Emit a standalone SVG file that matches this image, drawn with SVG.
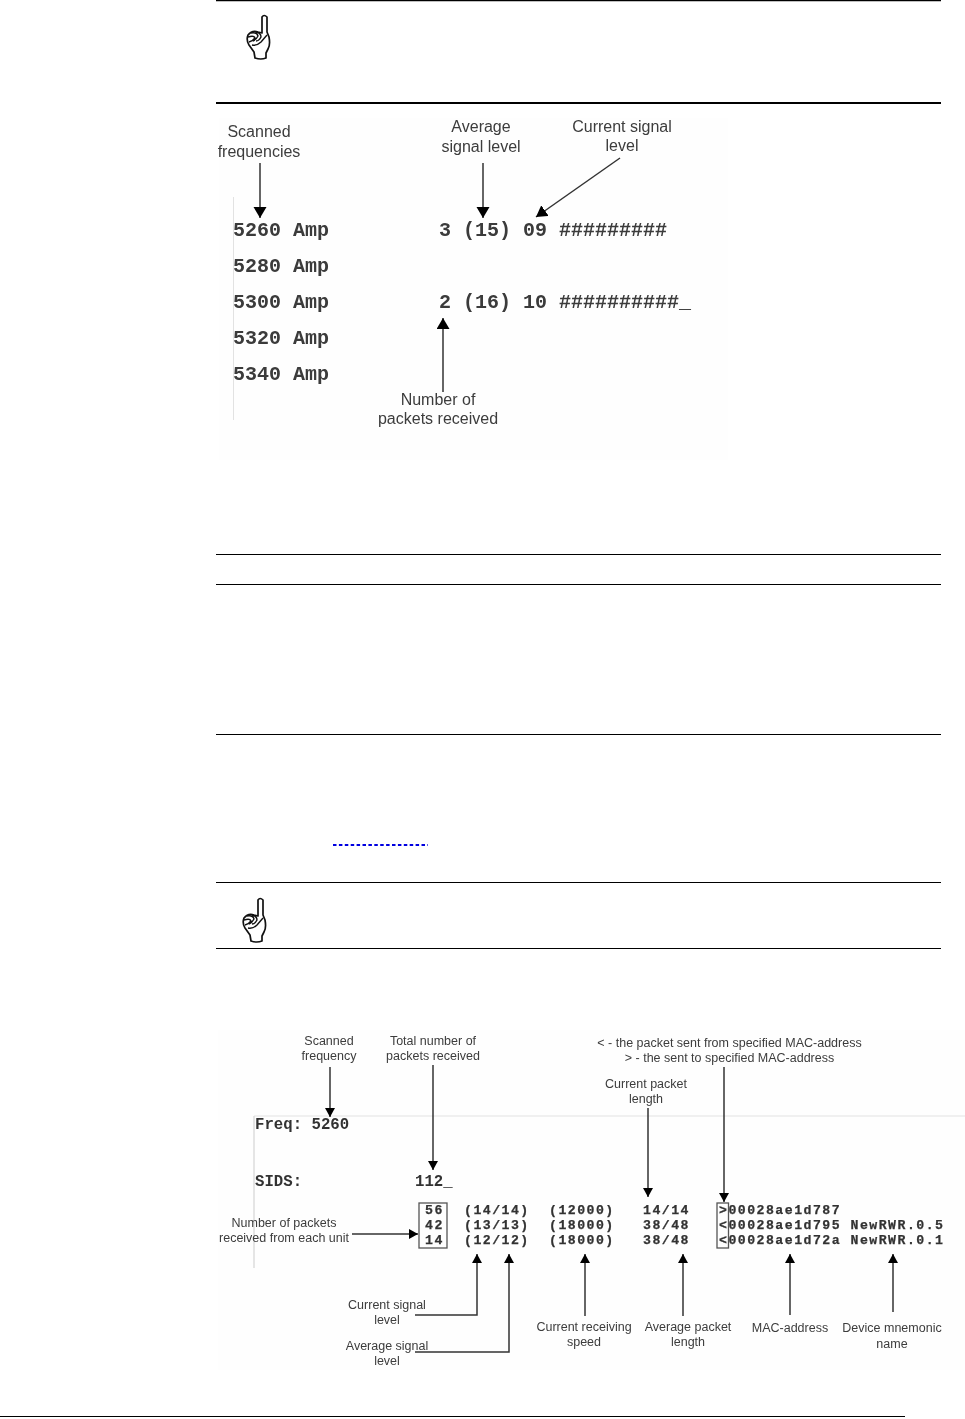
<svg xmlns="http://www.w3.org/2000/svg" width="965" height="1419" viewBox="0 0 965 1419">
<style>
.rule{stroke:#000;fill:none}
.lab1{font:16px "Liberation Sans",Arial,sans-serif;fill:#3c3c3c;text-anchor:middle}
.lab2{font:12.5px "Liberation Sans",Arial,sans-serif;fill:#3c3c3c;text-anchor:middle}
.m1{font:bold 20px "Liberation Mono","Courier New",monospace;fill:#3a3a3a;white-space:pre}
.m2{font:bold 15.7px "Liberation Mono","Courier New",monospace;fill:#333;white-space:pre}
.m3{font:bold 13.2px "Liberation Mono","Courier New",monospace;letter-spacing:1.48px;fill:#333;stroke:#333;stroke-width:.25;white-space:pre}
.conn{stroke:#333;stroke-width:1.5;fill:none}
.box{stroke:#555;stroke-width:1.3;fill:none}
.bg{fill:#fefefe}
.edge{stroke:#e2e2e2;stroke-width:1;fill:none}
</style>
<defs>
<filter id="soft" x="-5%" y="-5%" width="110%" height="110%"><feGaussianBlur stdDeviation="0.35"/></filter>
<marker id="ah" markerWidth="12" markerHeight="14" refX="11" refY="6.500" orient="auto" markerUnits="userSpaceOnUse"><path d="M0,0L11,6.500L0,13z" fill="#000"/></marker>
<marker id="as" markerWidth="10" markerHeight="11" refX="9" refY="5" orient="auto" markerUnits="userSpaceOnUse"><path d="M0,0L9,5L0,10z" fill="#000"/></marker>
<g id="hand" fill="#fff" stroke="#111" stroke-width="1.700" stroke-linejoin="round">
<path d="M15,18V2Q17,-1 20,2V17L22,22Q23.500,30 21,34L19,38V43Q14,45 8,43L7,37L2,30Q-1,25 1,20Q5,15 11,17Z"/>
<path d="M1,22Q7,20 8,23Q6,26 2,27M4,18Q10,17 11,21Q9,25 6,26M9,17Q14,18 14,22Q12,26 9,26M5,30Q10,31 14,27L20,20" fill="none" stroke-width="1.400"/>
</g>
</defs>
<rect width="965" height="1419" fill="#fff"/>

<g id="page-rules">
<path class="rule" stroke-width="1.500" d="M216,0.500H941"/>
<path class="rule" stroke-width="2" d="M216,103H941"/>
<path class="rule" stroke-width="1" d="M216,554.500H941M216,584.500H941M216,734.500H941M216,882.500H941M216,948.500H941"/>
<path class="rule" stroke-width="1" d="M0,1416.500H905"/>
<path id="link-underline" d="M333,845H428" stroke="#0000e0" stroke-width="2" stroke-dasharray="3.500 2.400" fill="none"/>
</g>

<g id="hand-1"><use href="#hand" x="247" y="15"/></g>
<g id="hand-2"><use href="#hand" x="243" y="898"/></g>

<g id="figure-1" filter="url(#soft)">
<rect class="bg" x="219" y="118" width="509" height="342"/>
<path class="edge" d="M233.500,197V420"/>
<g id="screen-1">
<text class="m1" x="233" y="236">5260 Amp</text>
<text class="m1" x="439" y="236">3 (15) 09 #########</text>
<text class="m1" x="233" y="272">5280 Amp</text>
<text class="m1" x="233" y="308">5300 Amp</text>
<text class="m1" x="439" y="308">2 (16) 10 ##########_</text>
<text class="m1" x="233" y="344">5320 Amp</text>
<text class="m1" x="233" y="380">5340 Amp</text>
</g>
<g id="label-scanned-frequencies"><text class="lab1" x="259" y="137">Scanned</text><text class="lab1" x="259" y="157">frequencies</text></g>
<g id="label-average-signal-1"><text class="lab1" x="481" y="132">Average</text><text class="lab1" x="481" y="152">signal level</text></g>
<g id="label-current-signal-1"><text class="lab1" x="622" y="132">Current signal</text><text class="lab1" x="622" y="151">level</text></g>
<g id="label-packets-received"><text class="lab1" x="438" y="405">Number of</text><text class="lab1" x="438" y="424">packets received</text></g>
<g id="connectors-1">
<path class="conn" marker-end="url(#ah)" d="M260,163V218"/>
<path class="conn" marker-end="url(#ah)" d="M483,163V218"/>
<path class="conn" marker-end="url(#ah)" d="M620,158L536,217"/>
<path class="conn" marker-end="url(#ah)" d="M443,392V318"/>
</g>
</g>

<g id="figure-2" filter="url(#soft)">
<rect class="bg" x="218" y="1030" width="747" height="340"/>
<path class="edge" d="M254,1116H965"/>
<path d="M254,1116V1268" stroke="#ddd" stroke-width="1.500" fill="none"/>
<g id="screen-2">
<text class="m2" x="255" y="1129">Freq: 5260</text>
<text class="m2" x="255" y="1186">SIDS:</text>
<text class="m2" x="415" y="1186">112_</text>
<text class="m3" x="425" y="1214">56</text><text class="m3" x="425" y="1229">42</text><text class="m3" x="425" y="1244">14</text>
<text class="m3" x="464" y="1214">(14/14)</text><text class="m3" x="464" y="1229">(13/13)</text><text class="m3" x="464" y="1244">(12/12)</text>
<text class="m3" x="549" y="1214">(12000)</text><text class="m3" x="549" y="1229">(18000)</text><text class="m3" x="549" y="1244">(18000)</text>
<text class="m3" x="643" y="1214">14/14</text><text class="m3" x="643" y="1229">38/48</text><text class="m3" x="643" y="1244">38/48</text>
<text class="m3" x="719" y="1214">&gt;00028ae1d787</text>
<text class="m3" x="719" y="1229">&lt;00028ae1d795 NewRWR.0.5</text>
<text class="m3" x="719" y="1244">&lt;00028ae1d72a NewRWR.0.1</text>
</g>
<rect class="box" id="box-counts" x="419" y="1203" width="28" height="45"/>
<rect class="box" id="box-direction" x="717" y="1203" width="11.500" height="45"/>
<g id="label-scanned-frequency"><text class="lab2" x="329" y="1045">Scanned</text><text class="lab2" x="329" y="1060">frequency</text></g>
<g id="label-total-packets"><text class="lab2" x="433" y="1045">Total number of</text><text class="lab2" x="433" y="1060">packets received</text></g>
<g id="label-direction"><text class="lab2" x="729.500" y="1047">&lt; - the packet sent from specified MAC-address</text><text class="lab2" x="729.500" y="1062">&gt; - the sent to specified MAC-address</text></g>
<g id="label-current-packet"><text class="lab2" x="646" y="1088">Current packet</text><text class="lab2" x="646" y="1103">length</text></g>
<g id="label-packets-unit"><text class="lab2" x="284" y="1227">Number of packets</text><text class="lab2" x="284" y="1242">received from each unit</text></g>
<g id="label-current-signal-2"><text class="lab2" x="387" y="1309">Current signal</text><text class="lab2" x="387" y="1324">level</text></g>
<g id="label-average-signal-2"><text class="lab2" x="387" y="1350">Average signal</text><text class="lab2" x="387" y="1365">level</text></g>
<g id="label-receiving-speed"><text class="lab2" x="584" y="1331">Current receiving</text><text class="lab2" x="584" y="1346">speed</text></g>
<g id="label-average-packet"><text class="lab2" x="688" y="1331">Average packet</text><text class="lab2" x="688" y="1346">length</text></g>
<g id="label-mac"><text class="lab2" x="790" y="1332">MAC-address</text></g>
<g id="label-device"><text class="lab2" x="892" y="1332">Device mnemonic</text><text class="lab2" x="892" y="1348">name</text></g>
<g id="connectors-2">
<path class="conn" marker-end="url(#as)" d="M330,1067V1117"/>
<path class="conn" marker-end="url(#as)" d="M433,1065V1170"/>
<path class="conn" marker-end="url(#as)" d="M648,1108V1197"/>
<path class="conn" marker-end="url(#as)" d="M724,1067V1202"/>
<path class="conn" marker-end="url(#as)" d="M352,1234H418"/>
<path class="conn" marker-end="url(#as)" d="M415,1315H477V1254"/>
<path class="conn" marker-end="url(#as)" d="M415,1352H509V1254"/>
<path class="conn" marker-end="url(#as)" d="M585,1316V1254"/>
<path class="conn" marker-end="url(#as)" d="M683,1316V1254"/>
<path class="conn" marker-end="url(#as)" d="M790,1315V1254"/>
<path class="conn" marker-end="url(#as)" d="M893,1312V1254"/>
</g>
</g>
</svg>
